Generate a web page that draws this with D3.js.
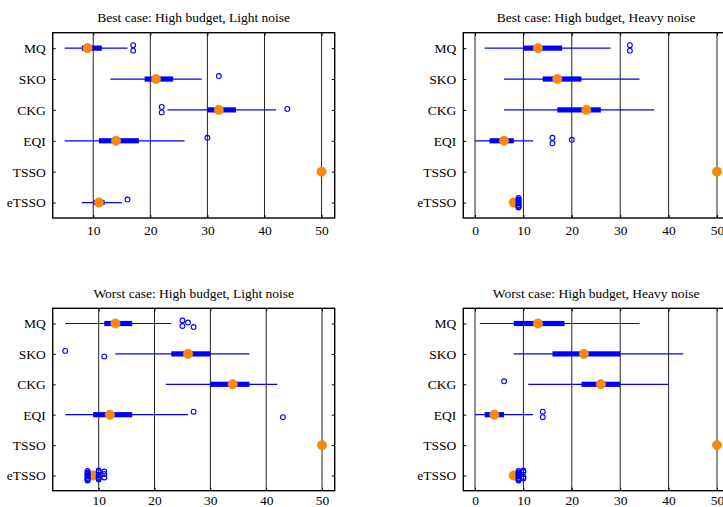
<!DOCTYPE html>
<html>
<head>
<meta charset="utf-8">
<script src="https://cdn.jsdelivr.net/npm/d3@7"></script>
<style>
  html, body { margin: 0; padding: 0; background: #fff; }
  svg { display: block; }
  svg text { font-family: "Liberation Serif", "Times New Roman", serif; }
</style>
</head>
<body>
<svg id="chart" width="723" height="507"></svg>
<script>
// Methods compared in every panel (top to bottom)
const methods = ["MQ", "SKO", "CKG", "EQI", "TSSO", "eTSSO"];

// Best case: High budget, Light noise
const bestLightLow  = [5, 13, 23, 5, 50, 8];
const bestLightQ1   = [8, 19, 30, 11, 50, 10];
const bestLightMed  = [9, 21, 32, 14, 50, 11];
const bestLightQ3   = [11.5, 24, 35, 18, 50, 12];
const bestLightHigh = [16, 29, 42, 26, 50, 15];
const bestLightOut  = [[17, 17], [32], [22, 22, 44], [30], [], [16]];

// Best case: High budget, Heavy noise
const bestHeavyLow  = [2, 6, 6, 0, 50, 8];
const bestHeavyQ1   = [10, 14, 17, 3, 50, 8];
const bestHeavyMed  = [13, 17, 23, 6, 50, 8];
const bestHeavyQ3   = [18, 22, 26, 8, 50, 8];
const bestHeavyHigh = [28, 34, 37, 12, 50, 8];
const bestHeavyOut  = [[32, 32], [], [], [16, 16, 20], [], [9, 9, 9, 9, 9, 9, 9, 9, 9, 9]];

// Worst case: High budget, Light noise
const worstLightLow  = [4, 13, 22, 4, 50, 9];
const worstLightQ1   = [11, 23, 30, 9, 50, 9];
const worstLightMed  = [13, 26, 34, 12, 50, 9];
const worstLightQ3   = [16, 30, 37, 16, 50, 9];
const worstLightHigh = [23, 37, 42, 26, 50, 9];
const worstLightOut  = [[25, 25, 26, 27], [4, 11], [], [27, 43], [],
  [8, 8, 8, 8, 8, 8, 8, 8, 8, 8, 10, 10, 10, 10, 10, 10, 11, 11, 11]];

// Worst case: High budget, Heavy noise
const worstHeavyLow  = [1, 8, 11, 0, 50, 8];
const worstHeavyQ1   = [8, 16, 22, 2, 50, 8];
const worstHeavyMed  = [13, 22.5, 26, 4, 50, 8];
const worstHeavyQ3   = [18.5, 30, 30, 6, 50, 8];
const worstHeavyHigh = [34, 43, 40, 12, 50, 8];
const worstHeavyOut  = [[], [], [6], [14, 14], [], [9, 9, 9, 9, 9, 9, 9, 9, 9, 9, 10, 10, 10, 10]];

const ticksFrom10 = [10, 20, 30, 40, 50];
const ticksFrom0  = [0, 10, 20, 30, 40, 50];

// Panel definitions: frame in pixels, value domain, ticks, data
const panels = [
  { title: "Best case: High budget, Light noise", x0: 52.7, x1: 334.7, y0: 32.7, y1: 218, labelGap: 7,
    domain: [2.9, 52.3], ticks: ticksFrom10,
    low: bestLightLow, q1: bestLightQ1, med: bestLightMed, q3: bestLightQ3, high: bestLightHigh, out: bestLightOut },
  { title: "Best case: High budget, Heavy noise", x0: 463.3, x1: 729, y0: 32.7, y1: 218, labelGap: 7,
    domain: [-2.42, 52.48], ticks: ticksFrom0,
    low: bestHeavyLow, q1: bestHeavyQ1, med: bestHeavyMed, q3: bestHeavyQ3, high: bestHeavyHigh, out: bestHeavyOut },
  { title: "Worst case: High budget, Light noise", x0: 52.7, x1: 334.7, y0: 308.3, y1: 490.7, labelGap: 4.5,
    domain: [1.76, 52.27], ticks: ticksFrom10,
    low: worstLightLow, q1: worstLightQ1, med: worstLightMed, q3: worstLightQ3, high: worstLightHigh, out: worstLightOut },
  { title: "Worst case: High budget, Heavy noise", x0: 463.3, x1: 729, y0: 308.3, y1: 490.7, labelGap: 4.5,
    domain: [-2.42, 52.48], ticks: ticksFrom0,
    low: worstHeavyLow, q1: worstHeavyQ1, med: worstHeavyMed, q3: worstHeavyQ3, high: worstHeavyHigh, out: worstHeavyOut }
];

// Vertical spread for repeated outliers so overlapping circles stay visible
const spread = [-3, 2.5, -1, 3.5, -4.5, 1, 4.5, -2, 0, 5, -5, 1.5, -3.5, 3, -0.5, 4, -4, 2, -1.5];

const BLUE = "#0000ff";
const ORANGE = "#ff8800";
const FONT = "'Liberation Serif', 'Times New Roman', serif";

const svg = d3.select("#chart");

panels.forEach(p => {
  const x = d3.scaleLinear().domain(p.domain).range([p.x0, p.x1]);
  const y = d3.scalePoint().domain(methods).range([p.y0, p.y1]).padding(0.5);
  const g = svg.append("g");

  // title
  g.append("text")
    .attr("x", (p.x0 + p.x1) / 2).attr("y", p.y0 - 10.5)
    .attr("text-anchor", "middle")
    .style("font-family", FONT).style("font-size", "13.5px")
    .attr("fill", "#000")
    .text(p.title);

  // vertical grid lines at major ticks
  g.selectAll(".grid").data(p.ticks).join("line")
    .attr("x1", d => x(d)).attr("x2", d => x(d))
    .attr("y1", p.y0).attr("y2", p.y1)
    .attr("stroke", "#222").attr("stroke-width", 1);

  // x axis (bottom) with inward tick marks
  const xAxis = d3.axisBottom(x).tickValues(p.ticks).tickSize(-3).tickPadding(p.labelGap).tickFormat(d3.format("d"));
  const gx = g.append("g").attr("transform", `translate(0,${p.y1})`).call(xAxis);
  gx.select(".domain").remove();
  gx.selectAll("line").attr("stroke", "#000");
  gx.selectAll("text").style("font-family", FONT).style("font-size", "13.5px").attr("fill", "#000");

  // top tick marks
  const xTop = d3.axisTop(x).tickValues(p.ticks).tickSize(-3).tickFormat("");
  const gxt = g.append("g").attr("transform", `translate(0,${p.y0})`).call(xTop);
  gxt.select(".domain").remove();
  gxt.selectAll("line").attr("stroke", "#000");

  // y axis with method names
  const yAxis = d3.axisLeft(y).tickSize(-3).tickPadding(7);
  const gy = g.append("g").attr("transform", `translate(${p.x0},0)`).call(yAxis);
  gy.select(".domain").remove();
  gy.selectAll("line").attr("stroke", "#000");
  gy.selectAll("text").style("font-family", FONT).style("font-size", "13.5px").attr("fill", "#000");

  const yRight = d3.axisRight(y).tickSize(-3).tickFormat("");
  const gyr = g.append("g").attr("transform", `translate(${p.x1},0)`).call(yRight);
  gyr.select(".domain").remove();
  gyr.selectAll("line").attr("stroke", "#000");

  const rows = methods.map((m, i) => ({
    m, low: p.low[i], q1: p.q1[i], med: p.med[i], q3: p.q3[i], high: p.high[i], out: p.out[i]
  }));

  // whiskers
  g.selectAll(".whisker").data(rows).join("line")
    .attr("x1", d => x(d.low)).attr("x2", d => x(d.high))
    .attr("y1", d => y(d.m)).attr("y2", d => y(d.m))
    .attr("stroke", BLUE).attr("stroke-width", 1.2);

  // interquartile boxes
  g.selectAll(".box").data(rows).join("rect")
    .attr("x", d => x(d.q1)).attr("width", d => Math.max(0, x(d.q3) - x(d.q1)))
    .attr("y", d => y(d.m) - 2.6).attr("height", 5.2)
    .attr("fill", BLUE);

  // medians
  g.selectAll(".median").data(rows).join("circle")
    .attr("cx", d => x(d.med)).attr("cy", d => y(d.m)).attr("r", 4.7)
    .attr("fill", ORANGE).attr("stroke", "#d08a40").attr("stroke-width", 0.6);

  // outliers
  const outs = rows.flatMap(d => d.out.map((v, k) => ({ m: d.m, v, k })));
  g.selectAll(".outlier").data(outs).join("circle")
    .attr("cx", d => x(d.v)).attr("cy", d => y(d.m) + spread[d.k % spread.length])
    .attr("r", 2.4)
    .attr("fill", "none").attr("stroke", BLUE).attr("stroke-width", 1.1);

  // frame
  g.append("rect")
    .attr("x", p.x0).attr("y", p.y0)
    .attr("width", p.x1 - p.x0).attr("height", p.y1 - p.y0)
    .attr("fill", "none").attr("stroke", "#000").attr("stroke-width", 1.4);
});
</script>
</body>
</html>
